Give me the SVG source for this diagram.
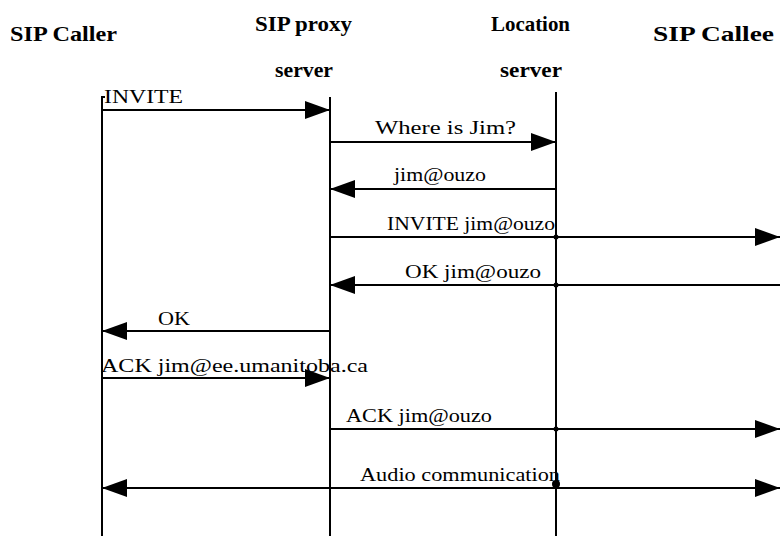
<svg xmlns="http://www.w3.org/2000/svg" width="780" height="536" viewBox="0 0 780 536">
  <style>
    .title { font-family: "Liberation Serif", "Times New Roman", serif; font-weight: bold; font-size: 21px; fill: #000; }
    .label { font-family: "Liberation Serif", "Times New Roman", serif; font-size: 18px; fill: #000; }
    .life { stroke: #000; stroke-width: 2; fill: none; }
    .msg { stroke: #000; stroke-width: 2; fill: none; }
    .dot { fill: #000; }
  </style>
  <defs>
    <marker id="arrow" markerUnits="userSpaceOnUse" markerWidth="26" markerHeight="20" viewBox="0 0 26 20" refX="25" refY="10" orient="auto-start-reverse">
      <path d="M0,1 L25,10 L0,19 Z" fill="#000"/>
    </marker>
  </defs>
  <rect width="780" height="536" fill="#fff"/>

  <!-- participants with their lifelines -->
  <g id="caller">
    <text class="title" x="10" y="41" textLength="107" lengthAdjust="spacingAndGlyphs">SIP Caller</text>
    <path class="life" d="M102,536 V97 H105"/>
  </g>
  <g id="proxy">
    <text class="title" x="255" y="31" textLength="97" lengthAdjust="spacingAndGlyphs">SIP proxy</text>
    <text class="title" x="275" y="77" textLength="58" lengthAdjust="spacingAndGlyphs">server</text>
    <path class="life" d="M330,97 V536"/>
  </g>
  <g id="location">
    <text class="title" x="491" y="31" textLength="79" lengthAdjust="spacingAndGlyphs">Location</text>
    <text class="title" x="500" y="77" textLength="62" lengthAdjust="spacingAndGlyphs">server</text>
    <path class="life" d="M556,92 V536"/>
  </g>
  <g id="callee">
    <text class="title" x="653" y="41" textLength="121" lengthAdjust="spacingAndGlyphs">SIP Callee</text>
  </g>

  <!-- message labels -->
  <g id="labels">
    <text class="label" x="104" y="103" textLength="79" lengthAdjust="spacingAndGlyphs">INVITE</text>
    <text class="label" x="375" y="134" textLength="141" lengthAdjust="spacingAndGlyphs">Where is Jim?</text>
    <text class="label" x="394" y="181" textLength="92" lengthAdjust="spacingAndGlyphs">jim@ouzo</text>
    <text class="label" x="387" y="230" textLength="168" lengthAdjust="spacingAndGlyphs">INVITE jim@ouzo</text>
    <text class="label" x="405" y="278" textLength="136" lengthAdjust="spacingAndGlyphs">OK jim@ouzo</text>
    <text class="label" x="158" y="325" textLength="32" lengthAdjust="spacingAndGlyphs">OK</text>
    <text class="label" x="101" y="372" textLength="267" lengthAdjust="spacingAndGlyphs">ACK jim@ee.umanitoba.ca</text>
    <text class="label" x="346" y="422" textLength="146" lengthAdjust="spacingAndGlyphs">ACK jim@ouzo</text>
    <text class="label" x="360" y="481" textLength="200" lengthAdjust="spacingAndGlyphs">Audio communication</text>
  </g>

  <!-- messages -->
  <g id="connectors">
    <line class="msg" x1="102" y1="110" x2="330" y2="110" marker-end="url(#arrow)"/>
    <line class="msg" x1="330" y1="142" x2="556" y2="142" marker-end="url(#arrow)"/>
    <line class="msg" x1="556" y1="189" x2="330" y2="189" marker-end="url(#arrow)"/>
    <line class="msg" x1="330" y1="237" x2="780" y2="237" marker-end="url(#arrow)"/>
    <line class="msg" x1="780" y1="285" x2="330" y2="285" marker-end="url(#arrow)"/>
    <line class="msg" x1="330" y1="331" x2="102" y2="331" marker-end="url(#arrow)"/>
    <line class="msg" x1="102" y1="378" x2="330" y2="378" marker-end="url(#arrow)"/>
    <line class="msg" x1="330" y1="429" x2="780" y2="429" marker-end="url(#arrow)"/>
    <line class="msg" x1="102" y1="488" x2="780" y2="488" marker-start="url(#arrow)" marker-end="url(#arrow)"/>
    <circle class="dot" cx="556" cy="237" r="2.5"/>
    <circle class="dot" cx="556" cy="285" r="2.5"/>
    <circle class="dot" cx="556" cy="429" r="2.5"/>
    <circle class="dot" cx="556" cy="484" r="4"/>
  </g>
</svg>
